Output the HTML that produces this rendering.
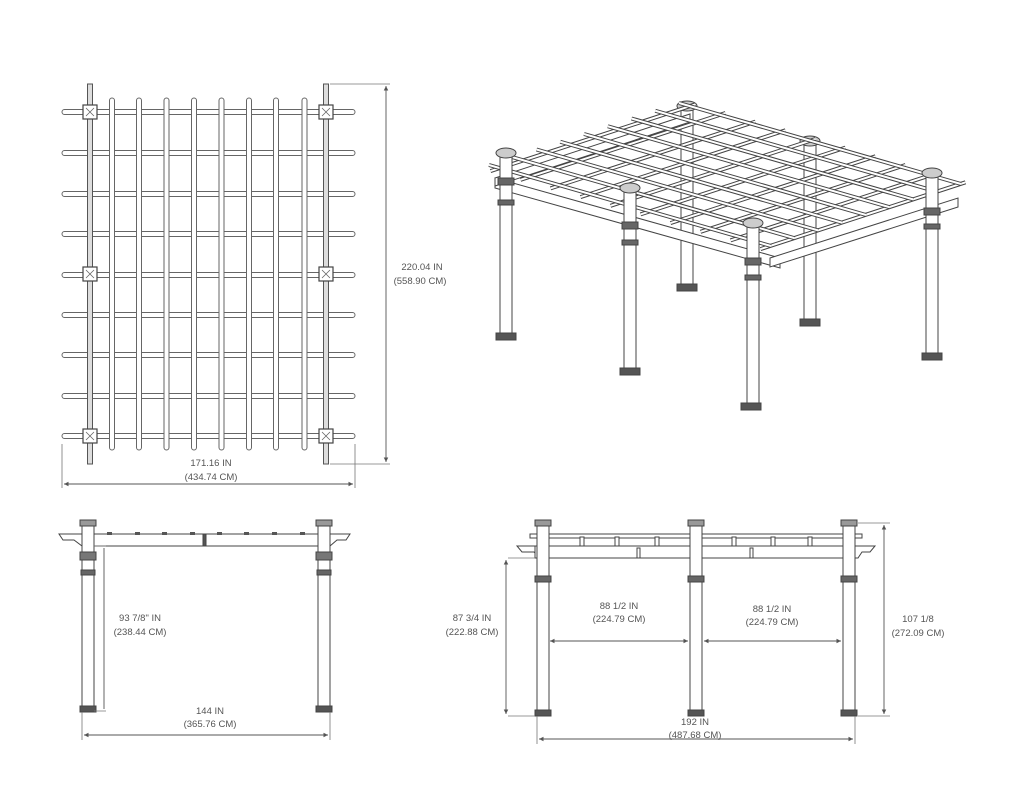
<!DOCTYPE html>
<html><head><meta charset="utf-8"><style>
html,body{margin:0;padding:0;background:#fff}
svg{display:block}
text{font-family:"Liberation Sans",sans-serif;font-size:9.5px;fill:#555;text-anchor:middle}
</style></head><body>
<svg width="1024" height="812" viewBox="0 0 1024 812" xmlns="http://www.w3.org/2000/svg">
<defs>
<rect id="h" x="62" width="293" height="5" rx="2.5" fill="#fff" stroke="#666" stroke-width="1"/>
<rect id="v" y="98" width="5" height="352" rx="2.5" fill="#fff" stroke="#666" stroke-width="1"/>
<g id="sq"><rect x="-7" y="-7" width="14" height="14" fill="#fff" stroke="#444" stroke-width="1.2"/><path d="M-4,-4L4,4M4,-4L-4,4" stroke="#666" stroke-width="0.8"/></g>
<marker id="ar" markerWidth="6" markerHeight="6" refX="5" refY="3" orient="auto-start-reverse"><path d="M0,0.5L5,3L0,5.5Z" fill="#555"/></marker>
</defs>

<!-- PLAN VIEW -->
<g>
<use href="#h" y="109.5"/><use href="#h" y="150.5"/><use href="#h" y="191.5"/><use href="#h" y="231.5"/><use href="#h" y="272.5"/><use href="#h" y="312.5"/><use href="#h" y="352.5"/><use href="#h" y="393.5"/><use href="#h" y="433.5"/>
<use href="#v" x="109.5"/><use href="#v" x="136.5"/><use href="#v" x="164"/><use href="#v" x="191.5"/><use href="#v" x="219"/><use href="#v" x="246.5"/><use href="#v" x="273.5"/><use href="#v" x="302"/>
<rect x="87.5" y="84" width="5" height="380" fill="#ddd" stroke="#555" stroke-width="1"/>
<rect x="323.5" y="84" width="5" height="380" fill="#ddd" stroke="#555" stroke-width="1"/>
<use href="#sq" x="90" y="112"/><use href="#sq" x="326" y="112"/>
<use href="#sq" x="90" y="274"/><use href="#sq" x="326" y="274"/>
<use href="#sq" x="90" y="436"/><use href="#sq" x="326" y="436"/>
<path d="M330,84H390M330,464H390M62,444V488M355,444V488" stroke="#777" stroke-width="0.8" fill="none"/>
<line x1="386" y1="86" x2="386" y2="462" stroke="#555" stroke-width="0.9" marker-start="url(#ar)" marker-end="url(#ar)"/>
<line x1="64" y1="484" x2="353" y2="484" stroke="#555" stroke-width="0.9" marker-start="url(#ar)" marker-end="url(#ar)"/>
<text x="422" y="270">220.04 IN</text><text x="420" y="284">(558.90 CM)</text>
<text x="211" y="466">171.16 IN</text><text x="211" y="480">(434.74 CM)</text>
</g>

<!-- 3D VIEW -->
<g stroke="#444" stroke-width="1">
<g fill="#fff"><rect x="681" y="110" width="12" height="180"/><rect x="677" y="284" width="20" height="7" fill="#555"/>
<rect x="804" y="145" width="12" height="180"/><rect x="800" y="319" width="20" height="7" fill="#555"/>
<ellipse cx="687" cy="106" rx="10" ry="5" fill="#ccc"/><ellipse cx="810" cy="141" rx="10" ry="5" fill="#ccc"/></g>
<path d="M495,178L780,258L780,268L495,188Z" fill="#fff"/>
<path d="M495,178L690,114L690,122L495,186Z" fill="#fff"/>
<path d="M770,258L958,198L958,207L770,267Z" fill="#fff"/>
<g stroke="#444" stroke-width="4" fill="none">
<path d="M490.5,171.1l205,-66.8M520.5,179.8l205,-66.8M550.5,188.4l205,-66.8M580.5,197.1l205,-66.8M610.5,205.8l205,-66.8M640.5,214.4l205,-66.8M670.5,223.1l205,-66.8M700.5,231.8l205,-66.8M730.5,240.4l205,-66.8M760.5,249.1l205,-66.8"/>
</g>
<g stroke="#fff" stroke-width="2" fill="none">
<path d="M490.5,171.1l205,-66.8M520.5,179.8l205,-66.8M550.5,188.4l205,-66.8M580.5,197.1l205,-66.8M610.5,205.8l205,-66.8M640.5,214.4l205,-66.8M670.5,223.1l205,-66.8M700.5,231.8l205,-66.8M730.5,240.4l205,-66.8M760.5,249.1l205,-66.8"/>
</g>
<g stroke="#444" stroke-width="4" fill="none">
<path d="M489,165l282,81M512.75,157.25l282,81M536.5,149.5l282,81M560.25,141.75l282,81M584,134l282,81M607.75,126.25l282,81M631.5,118.5l282,81M655.25,110.75l282,81M679,103l282,81"/>
</g>
<g stroke="#fff" stroke-width="2" fill="none">
<path d="M489,165l282,81M512.75,157.25l282,81M536.5,149.5l282,81M560.25,141.75l282,81M584,134l282,81M607.75,126.25l282,81M631.5,118.5l282,81M655.25,110.75l282,81M679,103l282,81"/>
</g>
<g fill="#fff">
<rect x="500" y="153" width="12" height="185"/><rect x="498" y="178" width="16" height="7" fill="#666"/><rect x="498" y="200" width="16" height="5" fill="#666"/><rect x="496" y="333" width="20" height="7" fill="#555"/><ellipse cx="506" cy="153" rx="10" ry="5" fill="#ccc"/>
<rect x="624" y="188" width="12" height="185"/><rect x="622" y="222" width="16" height="7" fill="#666"/><rect x="622" y="240" width="16" height="5" fill="#666"/><rect x="620" y="368" width="20" height="7" fill="#555"/><ellipse cx="630" cy="188" rx="10" ry="5" fill="#ccc"/>
<rect x="747" y="223" width="12" height="185"/><rect x="745" y="258" width="16" height="7" fill="#666"/><rect x="745" y="275" width="16" height="5" fill="#666"/><rect x="741" y="403" width="20" height="7" fill="#555"/><ellipse cx="753" cy="223" rx="10" ry="5" fill="#ccc"/>
<rect x="926" y="173" width="12" height="185"/><rect x="924" y="208" width="16" height="7" fill="#666"/><rect x="924" y="224" width="16" height="5" fill="#666"/><rect x="922" y="353" width="20" height="7" fill="#555"/><ellipse cx="932" cy="173" rx="10" ry="5" fill="#ccc"/>
</g>
</g>

<!-- LEFT ELEVATION -->
<g stroke="#444" stroke-width="1" fill="#fff">
<path d="M59,534H350L346,540H337L330,546H82L74,540H63Z"/>
<rect x="82" y="534" width="248" height="12"/>
<rect x="203" y="534" width="3" height="12" fill="#555"/>
<rect x="82" y="524" width="12" height="188"/><rect x="80" y="520" width="16" height="6" fill="#999"/>
<rect x="80" y="552" width="16" height="8" fill="#777"/><rect x="81" y="570" width="14" height="5" fill="#666"/><rect x="80" y="706" width="16" height="6" fill="#555"/>
<rect x="318" y="524" width="12" height="188"/><rect x="316" y="520" width="16" height="6" fill="#999"/>
<rect x="316" y="552" width="16" height="8" fill="#777"/><rect x="317" y="570" width="14" height="5" fill="#666"/><rect x="316" y="706" width="16" height="6" fill="#555"/>
</g>
<g fill="#555"><rect x="107" y="532" width="5" height="3"/><rect x="135" y="532" width="5" height="3"/><rect x="162" y="532" width="5" height="3"/><rect x="190" y="532" width="5" height="3"/><rect x="217" y="532" width="5" height="3"/><rect x="244" y="532" width="5" height="3"/><rect x="272" y="532" width="5" height="3"/><rect x="300" y="532" width="5" height="3"/></g>
<path d="M94,546H106M94,711H106M82,712V740M330,712V740" stroke="#777" stroke-width="0.8" fill="none"/>
<line x1="104" y1="548" x2="104" y2="709" stroke="#555" stroke-width="0.9"/>
<line x1="84" y1="735" x2="328" y2="735" stroke="#555" stroke-width="0.9" marker-start="url(#ar)" marker-end="url(#ar)"/>
<text x="140" y="621">93 7/8" IN</text><text x="140" y="635">(238.44 CM)</text>
<text x="210" y="714">144 IN</text><text x="210" y="727">(365.76 CM)</text>

<!-- RIGHT ELEVATION -->
<g stroke="#444" stroke-width="1" fill="#fff">
<rect x="530" y="534" width="332" height="4"/>
<path d="M517,546H875L870,552H862L858,558H540L534,552H522Z"/>
<rect x="535" y="546" width="320" height="12"/>
<rect x="537" y="524" width="12" height="192"/><rect x="535" y="520" width="16" height="6" fill="#999"/><rect x="535" y="576" width="16" height="6" fill="#666"/><rect x="535" y="710" width="16" height="6" fill="#555"/>
<rect x="690" y="524" width="12" height="192"/><rect x="688" y="520" width="16" height="6" fill="#999"/><rect x="688" y="576" width="16" height="6" fill="#666"/><rect x="688" y="710" width="16" height="6" fill="#555"/>
<rect x="843" y="524" width="12" height="192"/><rect x="841" y="520" width="16" height="6" fill="#999"/><rect x="841" y="576" width="16" height="6" fill="#666"/><rect x="841" y="710" width="16" height="6" fill="#555"/>
</g>
<g fill="#fff" stroke="#444" stroke-width="1"><rect x="580" y="537" width="4" height="9"/><rect x="615" y="537" width="4" height="9"/><rect x="655" y="537" width="4" height="9"/><rect x="732" y="537" width="4" height="9"/><rect x="771" y="537" width="4" height="9"/><rect x="808" y="537" width="4" height="9"/><rect x="637" y="548" width="3" height="10"/><rect x="750" y="548" width="3" height="10"/></g>
<path d="M508,558H535M508,716H535M858,523H890M858,716H890M537,716V744M855,716V744" stroke="#777" stroke-width="0.8" fill="none"/>
<line x1="506" y1="560" x2="506" y2="714" stroke="#555" stroke-width="0.9" marker-start="url(#ar)" marker-end="url(#ar)"/>
<line x1="884" y1="525" x2="884" y2="714" stroke="#555" stroke-width="0.9" marker-start="url(#ar)" marker-end="url(#ar)"/>
<line x1="550" y1="641" x2="688" y2="641" stroke="#555" stroke-width="0.9" marker-start="url(#ar)" marker-end="url(#ar)"/>
<line x1="704" y1="641" x2="841" y2="641" stroke="#555" stroke-width="0.9" marker-start="url(#ar)" marker-end="url(#ar)"/>
<line x1="539" y1="739" x2="853" y2="739" stroke="#555" stroke-width="0.9" marker-start="url(#ar)" marker-end="url(#ar)"/>
<text x="472" y="621">87 3/4 IN</text><text x="472" y="635">(222.88 CM)</text>
<text x="619" y="609">88 1/2 IN</text><text x="619" y="622">(224.79 CM)</text>
<text x="772" y="612">88 1/2 IN</text><text x="772" y="625">(224.79 CM)</text>
<text x="918" y="622">107 1/8</text><text x="918" y="636">(272.09 CM)</text>
<text x="695" y="725">192 IN</text><text x="695" y="738">(487.68 CM)</text>
</svg>
</body></html>
